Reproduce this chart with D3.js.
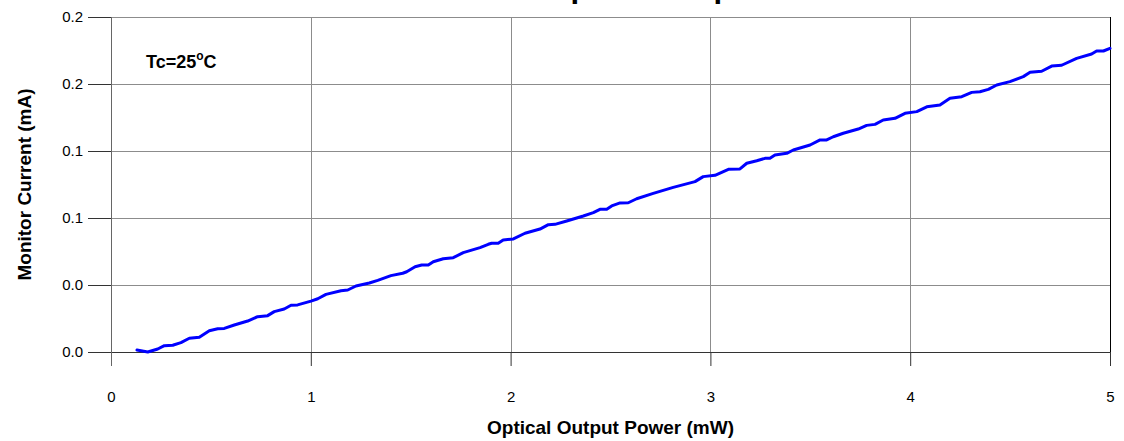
<!DOCTYPE html>
<html>
<head>
<meta charset="utf-8">
<script src="https://cdn.jsdelivr.net/npm/d3@7"></script>
<style>
  body { margin: 0; background: #fff; }
  svg { display: block; font-family: Arial, "Liberation Sans", sans-serif; }
</style>
</head>
<body>
<div id="chart"></div>
<script>
// Data
var powerMW = [0.130, 0.184, 0.234, 0.267, 0.309, 0.350, 0.392, 0.442, 0.492, 0.534,
  0.567, 0.617, 0.684, 0.734, 0.784, 0.817, 0.867, 0.901, 0.934, 1.001,
  1.035, 1.076, 1.151, 1.185, 1.226, 1.293, 1.335, 1.401, 1.460, 1.480,
  1.522, 1.555, 1.588, 1.613, 1.663, 1.713, 1.763, 1.847, 1.888, 1.905,
  1.938, 1.963, 2.014, 2.072, 2.147, 2.189, 2.222, 2.281, 2.364, 2.414,
  2.447, 2.481, 2.506, 2.548, 2.589, 2.631, 2.714, 2.814, 2.923, 2.964,
  3.023, 3.090, 3.148, 3.182, 3.232, 3.273, 3.298, 3.323, 3.382, 3.415,
  3.499, 3.549, 3.582, 3.615, 3.665, 3.740, 3.782, 3.824, 3.865, 3.924,
  3.974, 4.033, 4.083, 4.149, 4.199, 4.258, 4.308, 4.349, 4.391, 4.433,
  4.499, 4.566, 4.600, 4.658, 4.708, 4.758, 4.833, 4.908, 4.933, 4.967, 5.000];
var monitorMA = [0.0012, 0.0000, 0.0018, 0.0038, 0.0040, 0.0056, 0.0082, 0.0088, 0.0127, 0.0139,
  0.0141, 0.0161, 0.0185, 0.0211, 0.0217, 0.0241, 0.0257, 0.0279, 0.0281, 0.0304,
  0.0318, 0.0344, 0.0366, 0.0370, 0.0394, 0.0412, 0.0428, 0.0456, 0.0470, 0.0479,
  0.0509, 0.0519, 0.0519, 0.0539, 0.0557, 0.0563, 0.0593, 0.0623, 0.0643, 0.0649,
  0.0649, 0.0669, 0.0675, 0.0709, 0.0734, 0.0760, 0.0762, 0.0782, 0.0812, 0.0832,
  0.0852, 0.0852, 0.0872, 0.0890, 0.0891, 0.0915, 0.0947, 0.0983, 0.1017, 0.1047,
  0.1055, 0.1091, 0.1093, 0.1127, 0.1142, 0.1156, 0.1156, 0.1176, 0.1186, 0.1206,
  0.1236, 0.1266, 0.1266, 0.1285, 0.1306, 0.1331, 0.1353, 0.1359, 0.1385, 0.1395,
  0.1425, 0.1435, 0.1464, 0.1475, 0.1515, 0.1524, 0.1550, 0.1554, 0.1568, 0.1594,
  0.1614, 0.1644, 0.1670, 0.1676, 0.1707, 0.1712, 0.1753, 0.1779, 0.1797, 0.1797, 0.1813];
var xTicks = [0, 1, 2, 3, 4, 5];
var yTicks = [0, 0.04, 0.08, 0.12, 0.16, 0.2];

var chartTitle = "Monitor Current vs Optical Output Power";
var xTitle = "Optical Output Power (mW)";
var yTitle = "Monitor Current (mA)";

var svgWidth = 1124;
var svgHeight = 441;

var margin = {
  top: 17,
  right: 14,
  bottom: 89,
  left: 111
};

var width = svgWidth - margin.left - margin.right;
var height = svgHeight - margin.top - margin.bottom;

var svg = d3.select("#chart")
  .append("svg")
  .attr("width", svgWidth)
  .attr("height", svgHeight);

var chartGroup = svg.append("g")
  .attr("transform", `translate(${margin.left}, ${margin.top})`);

// Scales
var xLinearScale = d3.scaleLinear()
  .domain([0, 5])
  .range([0, width]);

var yLinearScale = d3.scaleLinear()
  .domain([0, 0.2])
  .range([height, 0]);

// Gridlines
chartGroup.append("g")
  .selectAll("line")
  .data(yTicks)
  .enter()
  .append("line")
  .attr("x1", 0)
  .attr("x2", width)
  .attr("y1", d => Math.round(yLinearScale(d)) + 0.5)
  .attr("y2", d => Math.round(yLinearScale(d)) + 0.5)
  .attr("stroke", "#8c8c8c")
  .attr("stroke-width", 1);

chartGroup.append("g")
  .selectAll("line")
  .data(xTicks.filter(d => d > 0 && d < 5))
  .enter()
  .append("line")
  .attr("x1", d => Math.round(xLinearScale(d)) + 0.5)
  .attr("x2", d => Math.round(xLinearScale(d)) + 0.5)
  .attr("y1", 0)
  .attr("y2", height)
  .attr("stroke", "#8c8c8c")
  .attr("stroke-width", 1);

// right border
chartGroup.append("line")
  .attr("x1", width + 0.5)
  .attr("x2", width + 0.5)
  .attr("y1", 0)
  .attr("y2", height)
  .attr("stroke", "#000")
  .attr("stroke-width", 1);

// Axes
var bottomAxis = d3.axisBottom(xLinearScale)
  .tickValues(xTicks)
  .tickFormat(d3.format("d"))
  .tickSize(14)
  .tickPadding(25);

var leftAxis = d3.axisLeft(yLinearScale)
  .tickValues(yTicks)
  .tickFormat(d3.format(".1f"))
  .tickSize(23)
  .tickPadding(5);

var xAxisG = chartGroup.append("g")
  .attr("transform", `translate(0, ${height})`)
  .call(bottomAxis);

var yAxisG = chartGroup.append("g")
  .call(leftAxis);

[xAxisG, yAxisG].forEach(function(g) {
  g.select(".domain").remove();
  g.selectAll("line").attr("stroke", "#333");
  g.selectAll("text")
    .attr("font-size", 15)
    .attr("fill", "#000")
    .attr("font-family", "Arial, 'Liberation Sans', sans-serif");
});

// axis lines
chartGroup.append("line")
  .attr("x1", -23)
  .attr("x2", width)
  .attr("y1", height + 0.5)
  .attr("y2", height + 0.5)
  .attr("stroke", "#333");

chartGroup.append("line")
  .attr("x1", 0.5)
  .attr("x2", 0.5)
  .attr("y1", 0)
  .attr("y2", height + 14)
  .attr("stroke", "#666");

// The data line
var line = d3.line()
  .x((d, i) => xLinearScale(powerMW[i]))
  .y(d => yLinearScale(d));

chartGroup.append("path")
  .datum(monitorMA)
  .attr("fill", "none")
  .attr("stroke", "#0000ff")
  .attr("stroke-width", 3)
  .attr("stroke-linejoin", "round")
  .attr("stroke-linecap", "round")
  .attr("d", line);

// Annotation
var note = chartGroup.append("text")
  .attr("x", 35)
  .attr("y", 51)
  .attr("font-size", 18)
  .attr("font-weight", "bold")
  .attr("fill", "#000");
note.append("tspan").text("Tc=25");
note.append("tspan").attr("font-size", 12).attr("dy", -8).text("o");
note.append("tspan").attr("dy", 8).text("C");

// Title (mostly cut off at the top, as in the original)
svg.append("text")
  .attr("x", svgWidth / 2)
  .attr("y", -3)
  .attr("text-anchor", "middle")
  .attr("font-size", 31)
  .attr("font-weight", "bold")
  .text(chartTitle);

// Axis titles
chartGroup.append("text")
  .attr("transform", `translate(${width / 2}, ${height + 82})`)
  .attr("text-anchor", "middle")
  .attr("font-size", 19)
  .attr("font-weight", "bold")
  .text(xTitle);

chartGroup.append("text")
  .attr("transform", "rotate(-90)")
  .attr("x", 0 - (height / 2))
  .attr("y", 0 - margin.left + 31)
  .attr("text-anchor", "middle")
  .attr("font-size", 19)
  .attr("font-weight", "bold")
  .text(yTitle);
</script>
</body>
</html>
